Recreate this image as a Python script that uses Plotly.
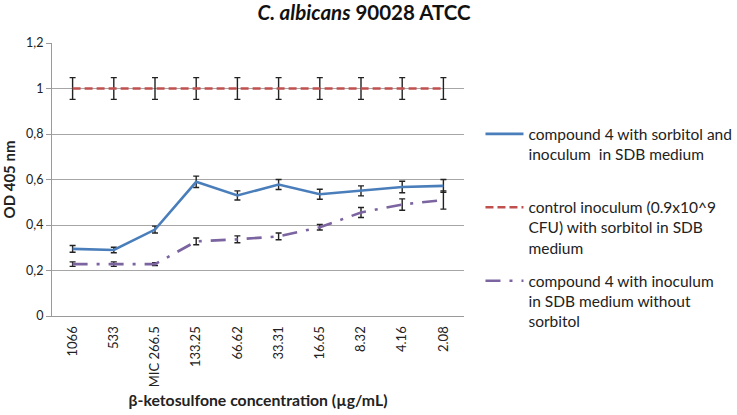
import plotly.graph_objects as go

categories = ["1066", "533", "MIC 266.5", "133.25", "66.62", "33.31", "16.65", "8.32", "4.16", "2.08"]

sorbitol_od = [0.295, 0.29, 0.38, 0.59, 0.53, 0.578, 0.535, 0.55, 0.567, 0.572]
sorbitol_err = [0.015, 0.012, 0.015, 0.025, 0.02, 0.022, 0.022, 0.022, 0.025, 0.028]

control_od = [1.0] * 10
control_err = [0.048] * 10

no_sorbitol_od = [0.228, 0.228, 0.228, 0.328, 0.337, 0.35, 0.39, 0.455, 0.49, 0.51]
no_sorbitol_err = [0.01, 0.01, 0.006, 0.015, 0.015, 0.015, 0.012, 0.022, 0.025, 0.04]

y_ticks = [0, 0.2, 0.4, 0.6, 0.8, 1.0, 1.2]
y_tick_text = ["0", "0,2", "0,4", "0,6", "0,8", "1", "1,2"]

FONT = "Lato, Open Sans, sans-serif"


def err(vals):
    return dict(type="data", array=vals, visible=True, color="#222222", thickness=1.4, width=3)


fig = go.Figure()
fig.add_trace(go.Scatter(
    x=categories, y=sorbitol_od, error_y=err(sorbitol_err), mode="lines",
    name="compound 4 with sorbitol and<br>inoculum  in SDB medium<br> ",
    line=dict(color="#4a7ebb", width=2.6), legendgroup="a",
))
fig.add_trace(go.Scatter(
    x=categories, y=control_od, error_y=err(control_err), mode="lines",
    name="control inoculum (0.9x10^9<br>CFU) with sorbitol in SDB<br>medium",
    line=dict(color="#c0504d", width=2.6, dash="8px,4px"), legendgroup="b",
))
fig.add_trace(go.Scatter(
    x=categories, y=no_sorbitol_od, error_y=err(no_sorbitol_err), mode="lines",
    name="compound 4 with inoculum<br>in SDB medium without<br>sorbitol",
    line=dict(color="#7b64a0", width=2.6, dash="15px,9px,3px,9px"), legendgroup="c",
))

fig.update_layout(
    width=737, height=415,
    paper_bgcolor="#ffffff", plot_bgcolor="#ffffff",
    font=dict(family=FONT, color="#222222", size=12),
    margin=dict(l=52, r=273, t=43, b=99, autoexpand=False),
    title=dict(
        text="<b><i>C. albicans</i> 90028 ATCC</b>",
        x=0.494, xanchor="center", y=0.969, yanchor="middle",
        font=dict(size=20.5, color="#111111"),
    ),
    showlegend=True,
    legend=dict(
        x=1.040, xanchor="left", y=0.728, yanchor="top",
        traceorder="grouped", tracegroupgap=10, valign="top",
        font=dict(size=15.5, color="#222222"),
        itemwidth=38, bgcolor="rgba(0,0,0,0)",
    ),
    xaxis=dict(
        type="category", tickangle=-90, showgrid=False,
        showline=True, linecolor="#9a9a9a", linewidth=1.2,
        ticks="", tickfont=dict(size=13), ticklabelstandoff=4,
        title=dict(text="<b>β-ketosulfone concentration (µg/mL)</b>", font=dict(size=15.8), standoff=8),
    ),
    yaxis=dict(
        range=[0, 1.2], tickvals=y_ticks, ticktext=y_tick_text,
        showgrid=True, gridcolor="#a6a6a6", gridwidth=1.2,
        showline=True, linecolor="#9a9a9a", linewidth=1.2,
        ticks="outside", ticklen=5, tickcolor="#9a9a9a",
        zeroline=False, tickfont=dict(size=12.5),
        title=dict(text="<b>OD 405 nm</b>", font=dict(size=15), standoff=8),
    ),
)

fig.write_html(
    "out.html",
    config={"displayModeBar": False},
    post_script="document.body.style.margin='0px';",
)
